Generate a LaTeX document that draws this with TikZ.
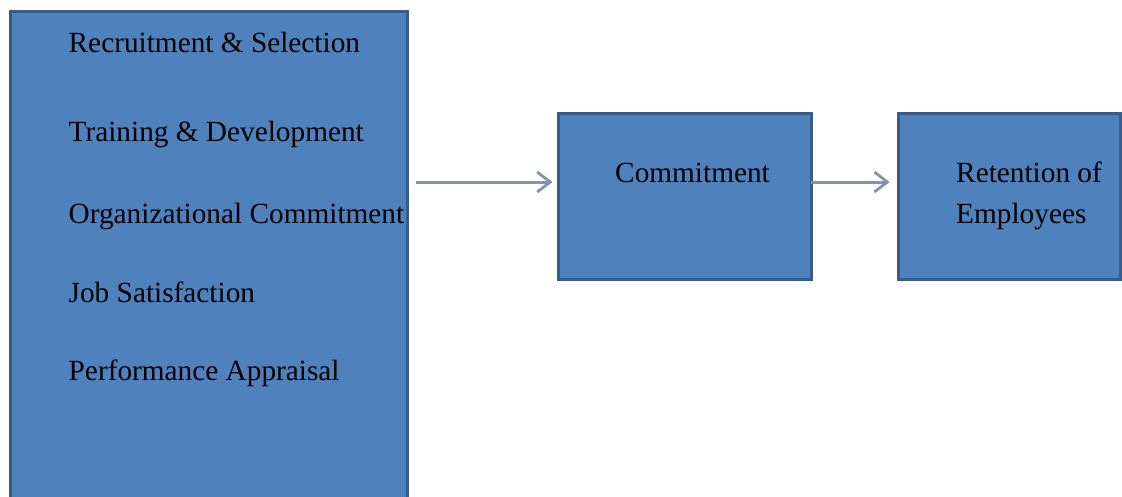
\documentclass[tikz,border=0pt]{standalone}
\usepackage{fontspec}
\setmainfont{Liberation Serif}
\usetikzlibrary{positioning,arrows.meta}

\definecolor{boxfill}{HTML}{4F81BD}
\definecolor{boxline}{HTML}{385D8A}
\definecolor{flowgray}{HTML}{8193AE}

\begin{document}
\begin{tikzpicture}[
  x=1pt,y=-1pt,
  box/.style={draw=boxline,fill=boxfill,line width=3pt,rectangle,inner sep=0pt,outer sep=0pt,anchor=north west},
  lbl/.style={anchor=base west,inner sep=0pt,font=\fontsize{29.3}{34}\selectfont},
  flow/.style={draw=flowgray,line width=3pt,-{Straight Barb[length=13pt,width=20pt,line width=2.8pt]}}
]
\useasboundingbox (0,0) rectangle (1122,496);
\clip (0,0) rectangle (1122,496);

% the three boxes
\node[box,minimum width=397pt,minimum height=520pt] (hr) at (10.5,11.5) {};
\node[box,minimum width=252.5pt,minimum height=165.5pt] (comm) at (558.5,113.5) {};
\node[box,minimum width=222pt,minimum height=165.5pt] (ret) at (898.7,113.5) {};

% practices listed in the big box
\node[lbl] (rs) at (68.5,52) {Recruitment \& Selection};
\node[lbl] (td) at (68.5,141) {Training \& Development};
\node[lbl] (oc) at (68.5,223.3) {Organizational Commitment};
\node[lbl] (js) at (68.5,302.3) {Job Satisfaction};
\node[lbl] (pa) at (68.5,380) {Performance Appraisal};

\node[lbl] (commtxt) at (615,182.3) {Commitment};
\node[lbl] (rettxt) at (956,182.3) {Retention of};
\node[lbl,below=41pt of rettxt.base west,anchor=base west] (emptxt) {Employees};

% arrows between the boxes
\coordinate (row) at (0,182);
\draw[flow,shorten <=8pt,shorten >=6pt] (hr.east |- row) -- (comm.west |- row);
\draw[flow,shorten >=9pt] (comm.east |- row) -- (ret.west |- row);
\end{tikzpicture}
\end{document}
